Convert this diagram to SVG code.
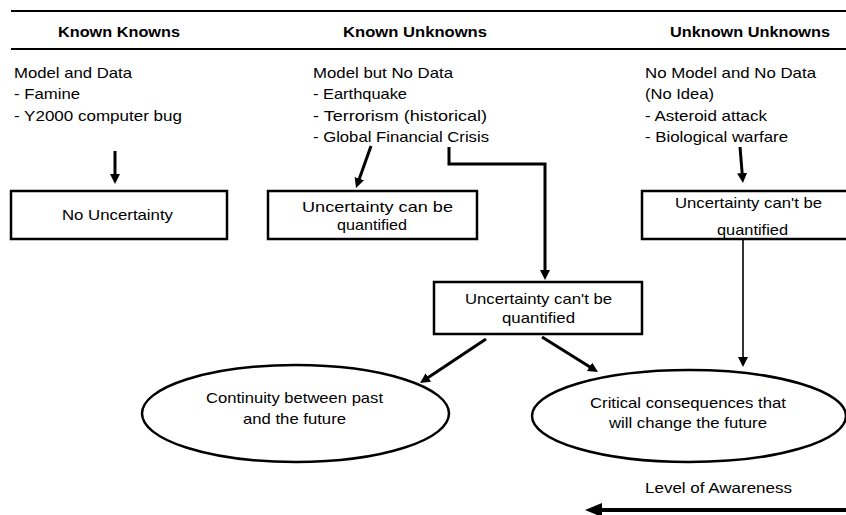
<svg xmlns="http://www.w3.org/2000/svg" width="846" height="515" viewBox="0 0 846 515">
<style>
text{font-family:"Liberation Sans",Arial,sans-serif;font-size:15px;fill:#000}
.h{font-weight:bold}
.m{text-anchor:middle}
.box{fill:#fff;stroke:#000;stroke-width:2.5}
.ell{fill:#fff;stroke:#000;stroke-width:2.5}
.c{fill:none;stroke:#000;stroke-width:3}
.thin{fill:none;stroke:#000;stroke-width:1.6}
.rule{stroke:#000;stroke-width:2}
</style>
<defs>
<marker id="a" markerUnits="userSpaceOnUse" markerWidth="12" markerHeight="12" refX="2" refY="5" orient="auto">
<path d="M0,0 L10,5 L0,10 z" fill="#000"/>
</marker>
<marker id="b" markerUnits="userSpaceOnUse" markerWidth="20" markerHeight="16" refX="3" refY="7" orient="auto">
<path d="M0,0 L17,7 L0,14 z" fill="#000"/>
</marker>
</defs>

<g id="header">
<line class="rule" x1="11" y1="11" x2="846" y2="11"/>
<line class="rule" x1="11" y1="49" x2="846" y2="49"/>
<text class="h m" x="119" y="37" textLength="122" lengthAdjust="spacingAndGlyphs">Known Knowns</text>
<text class="h m" x="415" y="37" textLength="144" lengthAdjust="spacingAndGlyphs">Known Unknowns</text>
<text class="h m" x="750" y="37" textLength="160" lengthAdjust="spacingAndGlyphs">Unknown Unknowns</text>
</g>

<g id="kk-text">
<text x="14" y="77.5" textLength="118" lengthAdjust="spacingAndGlyphs">Model and Data</text>
<text x="14" y="99" textLength="66" lengthAdjust="spacingAndGlyphs">- Famine</text>
<text x="14" y="120.5" textLength="168" lengthAdjust="spacingAndGlyphs">- Y2000 computer bug</text>
</g>

<g id="ku-text">
<text x="313" y="77.5" textLength="140" lengthAdjust="spacingAndGlyphs">Model but No Data</text>
<text x="313" y="99" textLength="94" lengthAdjust="spacingAndGlyphs">- Earthquake</text>
<text x="313" y="120.5" textLength="174" lengthAdjust="spacingAndGlyphs">- Terrorism (historical)</text>
<text x="313" y="142" textLength="176" lengthAdjust="spacingAndGlyphs">- Global Financial Crisis</text>
</g>

<g id="uu-text">
<text x="645" y="77.5" textLength="171" lengthAdjust="spacingAndGlyphs">No Model and No Data</text>
<text x="645" y="99" textLength="69" lengthAdjust="spacingAndGlyphs">(No Idea)</text>
<text x="645" y="120.5" textLength="122" lengthAdjust="spacingAndGlyphs">- Asteroid attack</text>
<text x="645" y="142" textLength="143" lengthAdjust="spacingAndGlyphs">- Biological warfare</text>
</g>

<g id="connectors">
<line class="c" x1="115" y1="151" x2="115" y2="176" marker-end="url(#a)"/>
<line class="c" x1="371" y1="146" x2="358.7" y2="180.5" marker-end="url(#a)"/>
<polyline class="c" points="449,147 449,164 545,164 545,272" marker-end="url(#a)"/>
<line class="c" x1="740" y1="147" x2="742.3" y2="175" marker-end="url(#a)"/>
<line class="thin" x1="743" y1="239" x2="743" y2="359" marker-end="url(#a)"/>
<line class="c" x1="486" y1="339" x2="426.7" y2="378.6" marker-end="url(#a)"/>
<line class="c" x1="542" y1="337" x2="591.2" y2="367.8" marker-end="url(#a)"/>
<line x1="846" y1="510" x2="599" y2="510" stroke="#000" stroke-width="4" marker-end="url(#b)"/>
</g>

<g id="no-uncertainty">
<rect class="box" x="11" y="191" width="216" height="48"/>
<text class="m" x="117.5" y="220" textLength="111" lengthAdjust="spacingAndGlyphs">No Uncertainty</text>
</g>

<g id="can-be-quantified">
<rect class="box" x="268" y="191" width="209" height="48"/>
<text class="m" x="377.5" y="212" textLength="151" lengthAdjust="spacingAndGlyphs">Uncertainty can be</text>
<text class="m" x="372" y="230" textLength="70" lengthAdjust="spacingAndGlyphs">quantified</text>
</g>

<g id="cant-be-quantified-mid">
<rect class="box" x="434" y="282" width="208" height="52"/>
<text class="m" x="538.5" y="304" textLength="147" lengthAdjust="spacingAndGlyphs">Uncertainty can't be</text>
<text class="m" x="538.5" y="323" textLength="73" lengthAdjust="spacingAndGlyphs">quantified</text>
</g>

<g id="cant-be-quantified-right">
<rect class="box" x="642" y="191" width="212" height="48"/>
<text class="m" x="748.5" y="208" textLength="147" lengthAdjust="spacingAndGlyphs">Uncertainty can't be</text>
<text class="m" x="752.5" y="235" textLength="71" lengthAdjust="spacingAndGlyphs">quantified</text>
</g>

<g id="continuity">
<ellipse class="ell" cx="295.5" cy="413.5" rx="153.5" ry="48.5"/>
<text class="m" x="294.5" y="403" textLength="177" lengthAdjust="spacingAndGlyphs">Continuity between past</text>
<text class="m" x="294.5" y="424" textLength="103" lengthAdjust="spacingAndGlyphs">and the future</text>
</g>

<g id="critical">
<ellipse class="ell" cx="689" cy="416" rx="157" ry="46"/>
<text class="m" x="688" y="408" textLength="196" lengthAdjust="spacingAndGlyphs">Critical consequences that</text>
<text class="m" x="688" y="428" textLength="158" lengthAdjust="spacingAndGlyphs">will change the future</text>
</g>

<g id="awareness">
<text class="m" x="718.5" y="493" textLength="147" lengthAdjust="spacingAndGlyphs">Level of Awareness</text>
</g>
</svg>
